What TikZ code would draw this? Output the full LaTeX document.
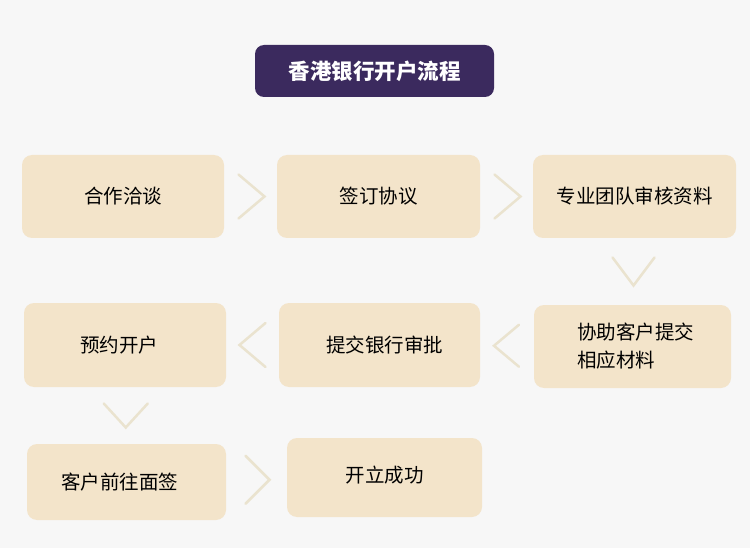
\documentclass[tikz,border=0pt]{standalone}
\usepackage{fontspec}
\setmainfont{Noto Sans CJK SC}
\usetikzlibrary{calc}
\definecolor{bgc}{HTML}{F7F7F7}
\definecolor{titlec}{HTML}{3B2A5E}
\definecolor{boxc}{HTML}{F3E4CA}
\definecolor{chevc}{HTML}{EAE3CF}
\tikzset{
  stepbox/.style={draw=none, fill=boxc, rounded corners=10pt, inner sep=0pt,
    font=\fontsize{19.5}{28}\selectfont, text=black},
  chev/.style={draw=chevc, line width=2.5pt, line cap=round, line join=miter},
}
\begin{document}
\begin{tikzpicture}[x=1pt,y=-1pt]
\fill[bgc] (0,0) rectangle (750,548);
\useasboundingbox (0,0) rectangle (750,548);

\node[fill=titlec, rounded corners=9pt, minimum width=239pt, minimum height=52pt, inner sep=0pt,
  text=white, font=\fontsize{21.5}{24}\selectfont\bfseries] (title) at (374.5,71) {香港银行开户流程};

\node[stepbox, minimum width=202pt, minimum height=83pt] (b1) at (123,196.5) {合作洽谈};
\node[stepbox, minimum width=203pt, minimum height=83pt] (b2) at (378.5,196.5) {签订协议};
\node[stepbox, minimum width=203pt, minimum height=83pt] (b3) at (634.5,196.5) {专业团队审核资料};

\node[stepbox, minimum width=202pt, minimum height=84pt] (b4) at (125,345) {\hspace*{-12pt}预约开户};
\node[stepbox, minimum width=201pt, minimum height=84pt] (b5) at (379.5,345) {\hspace*{10pt}提交银行审批};
\node[stepbox, minimum width=197pt, minimum height=83pt, align=left] (b6) at (632.5,346.5) {\hspace*{6pt}协助客户提交\\\hspace*{6pt}相应材料};

\node[stepbox, minimum width=199pt, minimum height=76pt] (b7) at (126.5,482) {\hspace*{-14pt}客户前往面签};
\node[stepbox, minimum width=195pt, minimum height=79pt] (b8) at (384.5,477.5) {\raisebox{6pt}{开立成功}};

% right chevrons
\draw[chev] ($(b1.east)!0.5!(b2.west)+(-12,-22)$) -- ++(26,22) -- ++(-26,22);
\draw[chev] ($(b2.east)!0.5!(b3.west)+(-12,-22)$) -- ++(26,22) -- ++(-26,22);
% down chevron
\coordinate (d1) at ($(b3.south)!0.5!(b6.north)$);
\draw[chev] ($(d1)+(-21,-14)$) -- ++(21,28) -- ++(21,-28);
% left chevrons
\draw[chev] ($(b5.east)!0.5!(b6.west)+(12,-21)$) -- ++(-25,21) -- ++(25,21);
\draw[chev] ($(b4.east)!0.5!(b5.west)+(13,-22)$) -- ++(-26,22) -- ++(26,22);
% down chevron
\coordinate (d2) at ($(b4.south)!0.5!(b7.north)$);
\draw[chev] ($(d2)+(-22,-12)$) -- ++(22,24) -- ++(22,-24);
% right chevron
\draw[chev] ($(b7.east)!0.5!(b8.west)+(-11,-24)$) -- ++(24,24) -- ++(-24,24);
\end{tikzpicture}
\end{document}
